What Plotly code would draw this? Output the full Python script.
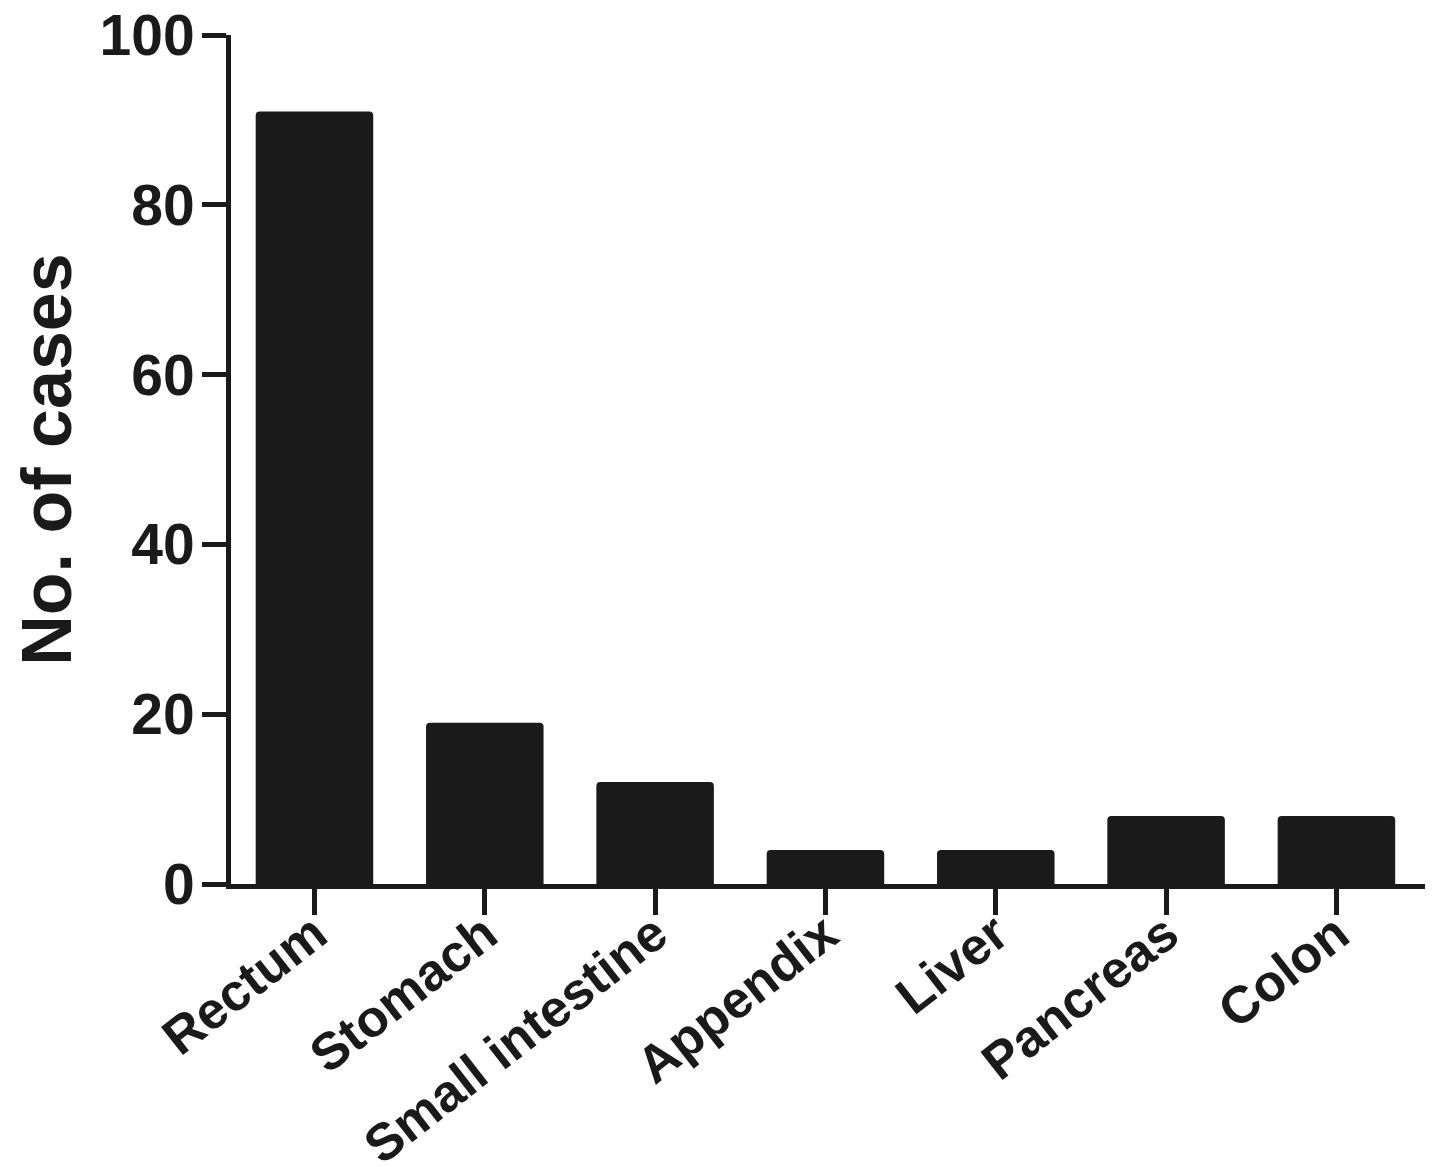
import plotly.graph_objects as go

categories = ["Rectum", "Stomach", "Small intestine", "Appendix", "Liver", "Pancreas", "Colon"]
cases = [91, 19, 12, 4, 4, 8, 8]
y_ticks = [0, 20, 40, 60, 80, 100]

ink = "#1a1a1a"
font_family = "Liberation Sans, Arial, sans-serif"

fig = go.Figure(
    go.Bar(
        x=categories,
        y=cases,
        marker=dict(color=ink, line=dict(width=0), cornerradius=4),
    )
)

fig.update_layout(
    width=1441,
    height=1167,
    paper_bgcolor="white",
    plot_bgcolor="white",
    margin=dict(l=223, r=24, t=27, b=291),
    bargap=0.31,
    showlegend=False,
    font=dict(family=font_family, color=ink),
)

fig.update_xaxes(
    range=[-0.49, 6.52],
    automargin=False,
    showline=True,
    linecolor=ink,
    linewidth=5,
    ticks="outside",
    ticklen=26,
    tickwidth=5,
    tickcolor=ink,
    tickangle=-38,
    ticklabelstandoff=-32,
    ticklabeloverflow="allow",
    tickfont=dict(size=52, family=font_family, color=ink, weight="bold"),
    showgrid=False,
    zeroline=False,
)

fig.update_yaxes(
    range=[0, 100],
    tickvals=y_ticks,
    automargin=False,
    showline=True,
    linecolor=ink,
    linewidth=5,
    ticks="outside",
    ticklen=24,
    tickwidth=5,
    tickcolor=ink,
    ticklabelstandoff=-4,
    ticklabeloverflow="allow",
    tickfont=dict(size=57, family=font_family, color=ink, weight="bold"),
    title=dict(text="No. of cases", font=dict(size=70, family=font_family, color=ink, weight="bold"), standoff=40),
    showgrid=False,
    zeroline=False,
)

fig.write_html("out.html")
